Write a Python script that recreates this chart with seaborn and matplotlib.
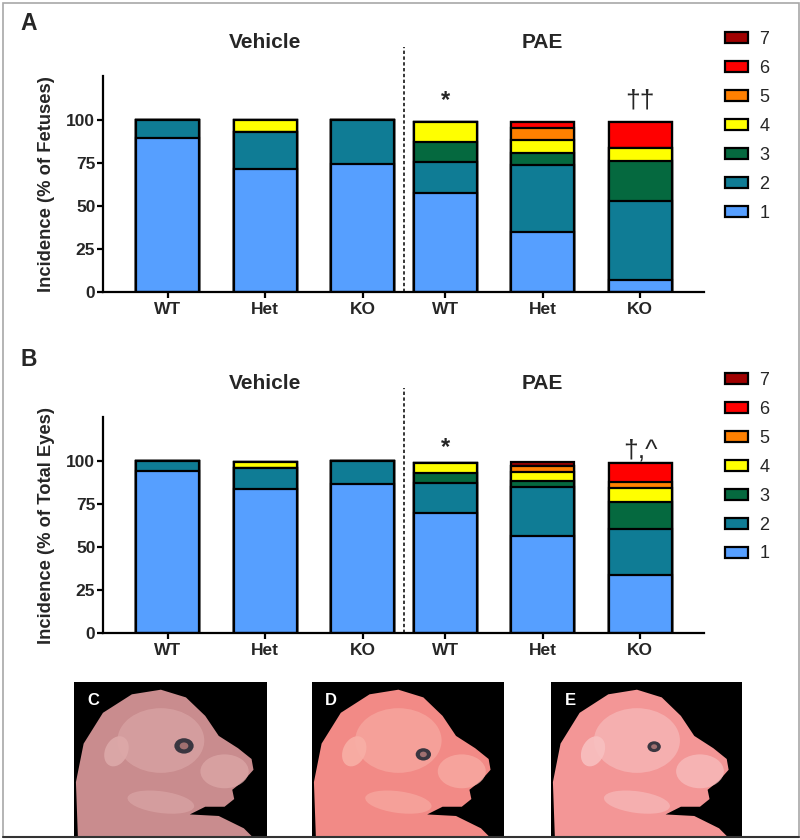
import numpy as np
import pandas as pd
import matplotlib
matplotlib.use("Agg")
import matplotlib.pyplot as plt
import seaborn as sns
from matplotlib.patches import Rectangle, Polygon, Ellipse, Circle
from matplotlib.lines import Line2D

# ---------------- data ----------------
groups = ["WT", "Het", "KO", "WT", "Het", "KO"]
treatments = ["Vehicle", "PAE"]
severity = ["1", "2", "3", "4", "5", "6", "7"]

# Panel A: % of fetuses in each severity score (per bar: scores 1..7)
fetus_s1 = [89.4, 71.2, 74.2, 57.6, 34.8, 6.8]
fetus_s2 = [10.6, 22.0, 25.8, 18.0, 39.1, 46.0]
fetus_s3 = [0.0, 0.0, 0.0, 11.6, 7.1, 23.2]
fetus_s4 = [0.0, 6.8, 0.0, 11.8, 7.4, 7.6]
fetus_s5 = [0.0, 0.0, 0.0, 0.0, 6.6, 0.0]
fetus_s6 = [0.0, 0.0, 0.0, 0.0, 4.0, 15.4]
fetus_s7 = [0.0, 0.0, 0.0, 0.0, 0.0, 0.0]

# Panel B: % of total eyes in each severity score
eyes_s1 = [94.0, 83.4, 86.7, 69.6, 56.1, 33.5]
eyes_s2 = [6.0, 12.3, 13.3, 17.6, 28.6, 27.0]
eyes_s3 = [0.0, 0.0, 0.0, 6.0, 3.5, 15.8]
eyes_s4 = [0.0, 3.8, 0.0, 5.8, 5.4, 7.7]
eyes_s5 = [0.0, 0.0, 0.0, 0.0, 3.3, 3.5]
eyes_s6 = [0.0, 0.0, 0.0, 0.0, 0.0, 11.5]
eyes_s7 = [0.0, 0.0, 0.0, 0.0, 2.2, 0.0]

sig_a = ["", "", "", "*", "", "\u2020\u2020"]
sig_b = ["", "", "", "*", "", "\u2020,^"]

colors = ["#569FFF", "#0F7C95", "#05693F", "#FFFF00", "#FF8000", "#FF0000", "#A00000"]

# ---------------- style ----------------
sns.set_theme(style="ticks")
plt.rcParams["font.family"] = ["Liberation Sans", "DejaVu Sans"]

W, H = 800, 840
fig = plt.figure(figsize=(8, 8.4), dpi=100)


def fx(px):
    return px / W


def fy(py):
    return 1 - py / H


# bar positions (layout): second group slightly closer
xpos = [0.0, 1.0, 2.0, 2.85, 3.85, 4.85]
bar_w = 0.646


def panel(ax, layers, ylabel, letter, letter_y, sig, sig_styles, leg_top):
    cum = np.cumsum(np.array(layers), axis=0)
    # draw cumulative bars from the top level down
    for k in range(len(layers) - 1, -1, -1):
        df = pd.DataFrame({"x": xpos, "y": cum[k]})
        sns.barplot(data=df, x="x", y="y", native_scale=True,
                    width=bar_w / 0.85, color=colors[k], saturation=1,
                    edgecolor="black", linewidth=1.6, errorbar=None, ax=ax)
    ax.set_xlim(-0.667, 5.506)
    ax.set_ylim(0, 125.5)
    ax.set_yticks([0, 25, 50, 75, 100])
    ax.set_xticks(xpos)
    ax.set_xticklabels(groups, fontweight="bold", fontsize=12.5)
    for t in ax.get_yticklabels():
        t.set_fontweight("bold")
        t.set_fontsize(12.5)
    ax.set_xlabel("")
    ax.set_ylabel(ylabel, fontweight="bold", fontsize=13.2, labelpad=8)
    sns.despine(ax=ax)
    for s in ["left", "bottom"]:
        ax.spines[s].set_linewidth(1.6)
        ax.spines[s].set_color("black")
    ax.tick_params(axis="both", length=4.5, width=1.6, color="black", pad=1.0)
    ax.tick_params(axis="x", pad=3)
    # group divider
    ax.plot([2.425, 2.425], [0, 142.5], ls=(0, (2.2, 1.6)), color="black",
            lw=1.1, clip_on=False)
    ax.text(1.0, 145, treatments[0], ha="center", va="center",
            fontsize=15, fontweight="bold")
    ax.text(3.85, 145, treatments[1], ha="center", va="center",
            fontsize=15, fontweight="bold")
    for x, s, st in zip(xpos, sig, sig_styles):
        if s:
            ax.text(x, st[0], s, ha="center", va="center",
                    fontsize=st[1], fontweight=st[2])
    fig.text(fx(29), letter_y, letter, ha="center", va="center",
             fontsize=16.5, fontweight="bold")
    handles = [Rectangle((0, 0), 1, 1, facecolor=colors[k], edgecolor="black",
                         linewidth=1.6) for k in range(6, -1, -1)]
    ax.legend(handles, severity[::-1], loc="upper left",
              bbox_to_anchor=(fx(725), fy(leg_top)),
              bbox_transform=fig.transFigure,
              frameon=False, fontsize=13, handlelength=1.3, handleheight=0.55,
              handletextpad=0.6, labelspacing=0.66, borderpad=0,
              borderaxespad=0)
    return ax


axA = fig.add_axes([fx(103), fy(292), fx(704 - 103), (292 - 76) / H])
fetus_layers = [fetus_s1, fetus_s2, fetus_s3, fetus_s4, fetus_s5, fetus_s6, fetus_s7]
styles_a = [None, None, None, (111, 17, "bold"), None, (111, 19, "normal")]
panel(axA, fetus_layers, "Incidence (% of Fetuses)", "A", fy(23), sig_a,
      styles_a, 31)

axB = fig.add_axes([fx(103), fy(633), fx(704 - 103), (633 - 417) / H])
eye_layers = [eyes_s1, eyes_s2, eyes_s3, eyes_s4, eyes_s5, eyes_s6, eyes_s7]
styles_b = [None, None, None, (108, 17, "bold"), None, (106, 19, "normal")]
panel(axB, eye_layers, "Incidence (% of Total Eyes)", "B", fy(360), sig_b,
      styles_b, 372)

# ---------------- photo panels (stylised placeholders) ----------------
photo_boxes = [(74, 267), (312, 504), (551, 742)]
photo_letters = ["C", "D", "E"]
skin = ["#C98C8E", "#F28A86", "#F39696"]
skin_light = ["#DDA9A9", "#F8AFA6", "#F8C0C0"]
eye_pos = [(0.57, 0.585), (0.58, 0.53), (0.54, 0.58)]
eye_r = [0.05, 0.04, 0.035]

outline = [(0.02, 0.0), (0.01, 0.35), (0.05, 0.6), (0.15, 0.8), (0.30, 0.92),
           (0.45, 0.95), (0.58, 0.90), (0.68, 0.78), (0.75, 0.65), (0.85, 0.57),
           (0.92, 0.50), (0.93, 0.43), (0.88, 0.36), (0.82, 0.30), (0.83, 0.24),
           (0.78, 0.19), (0.68, 0.19), (0.60, 0.14), (0.75, 0.13), (0.88, 0.05),
           (0.92, 0.0)]

for (x0, x1), letter, c, cl, ep, er in zip(photo_boxes, photo_letters, skin,
                                          skin_light, eye_pos, eye_r):
    pax = fig.add_axes([fx(x0), fy(836), fx(x1 - x0), (836 - 682) / H])
    pax.set_facecolor("black")
    pax.set_xlim(0, 1)
    pax.set_ylim(0, 1)
    pax.set_xticks([])
    pax.set_yticks([])
    for s in pax.spines.values():
        s.set_visible(False)
    pax.add_patch(Polygon(outline, closed=True, facecolor=c, edgecolor="none"))
    pax.add_patch(Ellipse((0.45, 0.62), 0.45, 0.42, facecolor=cl, alpha=0.6,
                          edgecolor="none"))
    pax.add_patch(Ellipse((0.78, 0.42), 0.25, 0.22, facecolor=cl, alpha=0.7,
                          edgecolor="none"))
    pax.add_patch(Ellipse((0.22, 0.55), 0.12, 0.2, angle=-15, facecolor=cl,
                          alpha=0.9, edgecolor="none"))
    pax.add_patch(Ellipse((0.45, 0.22), 0.35, 0.14, angle=-10, facecolor=cl,
                          alpha=0.6, edgecolor="none"))
    pax.add_patch(Circle(ep, er, facecolor="#3A3640", edgecolor="none"))
    pax.add_patch(Circle(ep, er * 0.45, facecolor="#A07070", edgecolor="none"))
    pax.text(0.1, 0.88, letter, color="white", fontsize=12, fontweight="bold",
             ha="center", va="center")

# figure border
fig.add_artist(Rectangle((fx(3), fy(837)), fx(796), (837 - 3) / H,
                         transform=fig.transFigure, fill=False,
                         edgecolor="#A8A8A8", linewidth=1.2))
fig.add_artist(Line2D([fx(3), fx(799)], [fy(837), fy(837)],
                      transform=fig.transFigure, color="#333333", linewidth=1.5))

fig.savefig("out.png", dpi=100)
